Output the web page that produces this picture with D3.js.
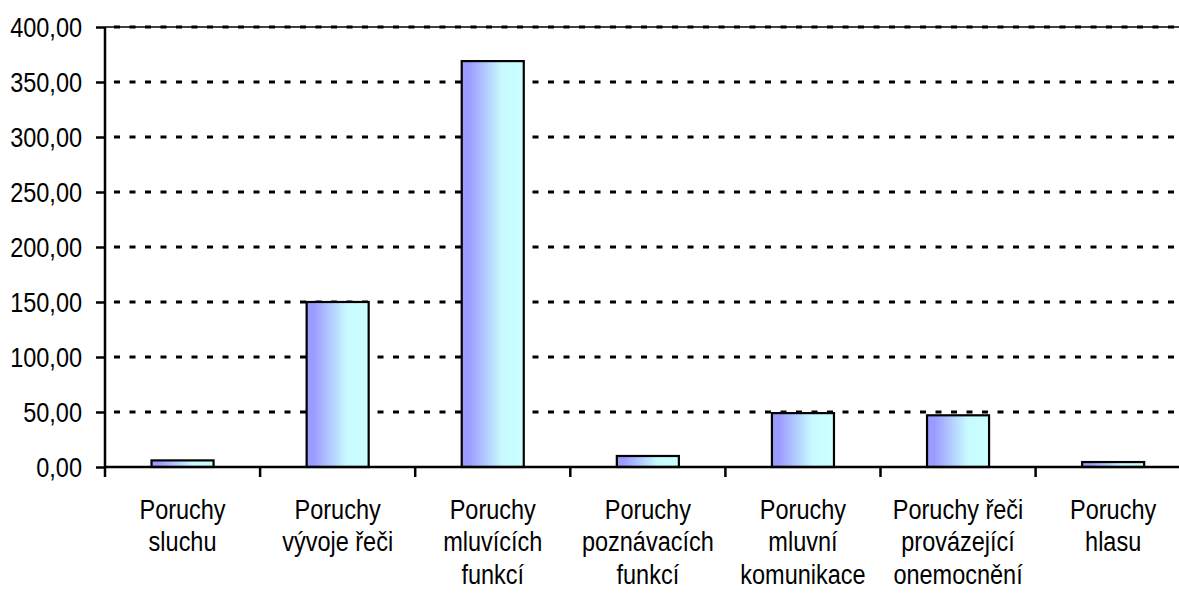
<!DOCTYPE html>
<html><head><meta charset="utf-8">
<script src="https://cdn.jsdelivr.net/npm/d3@7"></script>
<style>html,body{margin:0;padding:0;background:#fff;overflow:hidden}</style>
</head><body>
<svg id="chart" width="1179" height="595"></svg>
<script>
const categories = [
  ["Poruchy", "sluchu"],
  ["Poruchy", "vývoje řeči"],
  ["Poruchy", "mluvících", "funkcí"],
  ["Poruchy", "poznávacích", "funkcí"],
  ["Poruchy", "mluvní", "komunikace"],
  ["Poruchy řeči", "provázející", "onemocnění"],
  ["Poruchy", "hlasu"]
];
const values = [6, 150, 369, 10, 49, 47, 4.5];
const yTicks = [0, 50, 100, 150, 200, 250, 300, 350, 400];

(function() {
const svg = d3.select("#chart");
const pLeft = 105, pTop = 27, pBottom = 467, pRight = 105 + 7 * 155.1;
const keys = categories.map((c, i) => i);

const y = d3.scaleLinear().domain([0, 400]).range([pBottom, pTop]);
const xBand = d3.scaleBand().domain(keys).range([pLeft, pRight]).padding(0);
const xBar = d3.scaleBand().domain(keys).range([pLeft, pRight]).paddingInner(0.6).paddingOuter(0.3);

const defs = svg.append("defs");
const grad = defs.append("linearGradient").attr("id", "barGrad")
  .attr("x1", "0%").attr("x2", "100%").attr("y1", "0%").attr("y2", "0%");
grad.append("stop").attr("offset", "0%").attr("stop-color", "#9a9aff");
grad.append("stop").attr("offset", "12%").attr("stop-color", "#9c9cff");
grad.append("stop").attr("offset", "65%").attr("stop-color", "#c8fbff");
grad.append("stop").attr("offset", "100%").attr("stop-color", "#ccffff");

const fontFam = "'Liberation Sans', Arial, sans-serif";
const sx = 0.87;

// top border line of plot area
svg.append("line").attr("x1", pLeft).attr("x2", 1179).attr("y1", y(400)).attr("y2", y(400))
  .attr("stroke", "#000").attr("stroke-width", 1.5);

// gridlines
svg.append("g").selectAll("line").data(yTicks.filter(d => d > 0)).join("line")
  .attr("x1", pLeft + 2).attr("x2", 1179)
  .attr("y1", d => y(d)).attr("y2", d => y(d))
  .attr("stroke", "#000").attr("stroke-width", 3)
  .attr("stroke-dasharray", "6,9.5").attr("stroke-dashoffset", 8.5);

// bars
svg.append("g").selectAll("rect").data(values).join("rect")
  .attr("x", (d, i) => xBar(i))
  .attr("width", xBar.bandwidth())
  .attr("y", d => y(d))
  .attr("height", d => y(0) - y(d))
  .attr("fill", "url(#barGrad)")
  .attr("stroke", "#000").attr("stroke-width", 2.2);

// y axis
const yAxis = d3.axisLeft(y).tickValues(yTicks).tickSize(9).tickPadding(14)
  .tickFormat(d => d3.format(".2f")(d).replace(".", ","));
const gy = svg.append("g").attr("transform", `translate(${pLeft},0)`).call(yAxis);
gy.select(".domain").attr("stroke", "#000").attr("stroke-width", 2.5)
  .attr("d", `M0,${pTop}V${pBottom + 10}`);
gy.selectAll(".tick line").attr("stroke", "#000").attr("stroke-width", 2.5);
gy.selectAll(".tick text").each(function() {
  const t = d3.select(this);
  t.attr("font-family", fontFam).attr("font-size", 27).attr("fill", "#000")
   .attr("dy", null).attr("x", null)
   .attr("transform", `translate(-23,9.7) scale(${sx},1)`)
   .attr("text-anchor", "end");
});

// x axis
svg.append("line").attr("x1", pLeft).attr("x2", 1179).attr("y1", pBottom).attr("y2", pBottom)
  .attr("stroke", "#000").attr("stroke-width", 2.5);
svg.append("g").selectAll("line").data(keys.slice(1)).join("line")
  .attr("x1", d => xBand(d)).attr("x2", d => xBand(d))
  .attr("y1", pBottom).attr("y2", pBottom + 10)
  .attr("stroke", "#000").attr("stroke-width", 2.5);

// category labels
const lab = svg.append("g").selectAll("g").data(categories).join("g")
  .attr("transform", (d, i) => `translate(${xBand(i) + xBand.bandwidth() / 2},519) scale(${sx},1)`);
lab.each(function(lines) {
  const t = d3.select(this).append("text")
    .attr("font-family", fontFam).attr("font-size", 27).attr("fill", "#000")
    .attr("text-anchor", "middle");
  lines.forEach((l, j) => t.append("tspan").attr("x", 0).attr("y", j * 32.5).text(l));
});
})();
</script>
</body></html>
